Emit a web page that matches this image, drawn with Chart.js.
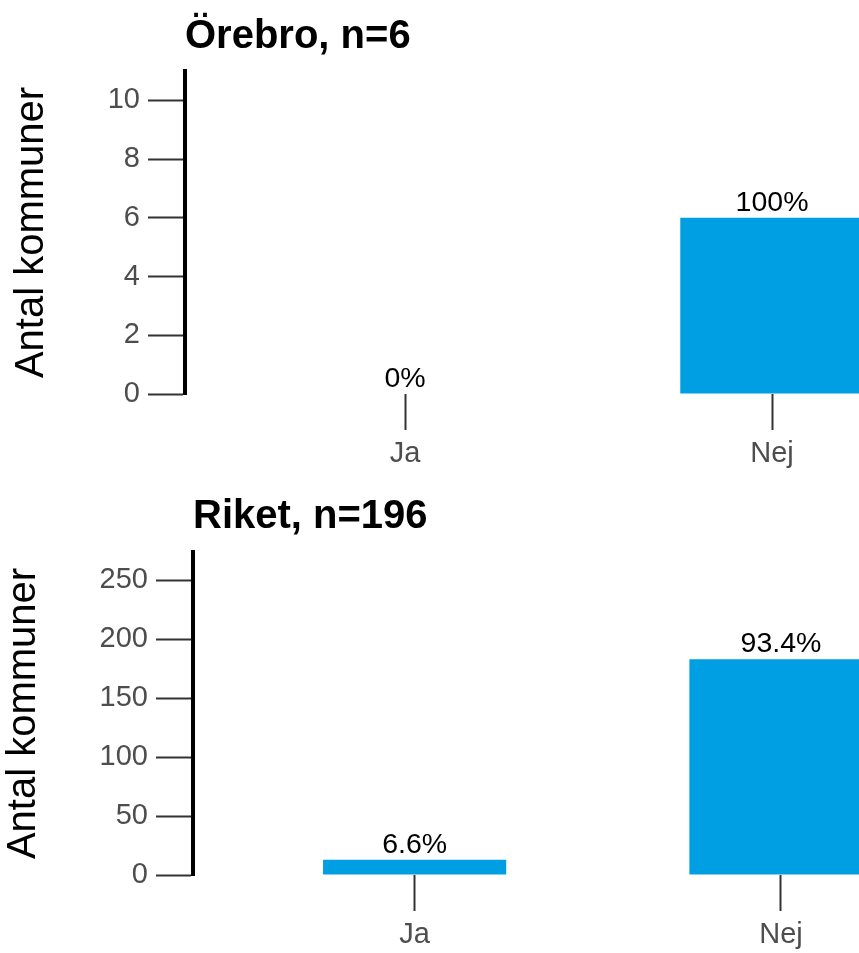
<!DOCTYPE html>
<html>
<head>
<meta charset="utf-8">
<script src="https://cdn.jsdelivr.net/npm/chart.js@4.4.1/dist/chart.umd.min.js"></script>
<style>
  html, body { margin: 0; padding: 0; background: #fff; overflow: hidden; }
  .panel { width: 859px; position: relative; }
  canvas { display: block; }
</style>
</head>
<body>
<div class="panel"><canvas id="orebro" width="859" height="480"></canvas></div>
<div class="panel"><canvas id="riket" width="859" height="473"></canvas></div>
<script>
// data
const kategorier = ['Ja', 'Nej'];
const kategoriPos = [1, 2];

const orebroTitel = 'Örebro, n=6';
const orebroN = 6;
const orebroVarden = [0, 6];
const orebroYTicks = [0, 2, 4, 6, 8, 10];

const riketTitel = 'Riket, n=196';
const riketN = 196;
const riketVarden = [13, 183];
const riketYTicks = [0, 50, 100, 150, 200, 250];

const FONT = "'Liberation Sans', Arial, Helvetica, sans-serif";
const BLA = '#009FE3';

function procent(v, n) {
  return (+(v / n * 100).toFixed(1)) + '%';
}

// titel + procentetiketter
const etiketter = {
  id: 'etiketter',
  afterDatasetsDraw(chart, args, opts) {
    const ctx = chart.ctx;
    const meta = chart.getDatasetMeta(0);
    ctx.save();
    ctx.beginPath();
    ctx.rect(0, 0, chart.width, chart.height);
    ctx.clip();
    ctx.fillStyle = '#000';
    ctx.font = '28.5px ' + FONT;
    ctx.textAlign = 'center';
    ctx.textBaseline = 'alphabetic';
    meta.data.forEach((bar, i) => {
      ctx.fillText(opts.texter[i], bar.x, bar.y - 7);
    });
    ctx.font = 'bold 40px ' + FONT;
    ctx.textAlign = 'left';
    ctx.fillText(opts.titel, chart.chartArea.left, 48);
    ctx.restore();
  }
};

function ritaPanel(id, titel, n, varden, yTicks, yMax, yBredd, xMin, xMax, topp, xHojd, titelPad) {
  const ctx = document.getElementById(id).getContext('2d');
  new Chart(ctx, {
    type: 'bar',
    data: {
      datasets: [{
        data: kategoriPos.map((x, i) => ({ x: x, y: varden[i] })),
        backgroundColor: BLA,
        borderWidth: 0,
        barPercentage: 1,
        categoryPercentage: 0.5
      }]
    },
    options: {
      responsive: false,
      animation: false,
      layout: { padding: { top: topp, right: 0, left: 0, bottom: 0 } },
      plugins: {
        legend: { display: false },
        tooltip: { enabled: false },
        etiketter: { titel: titel, texter: varden.map(v => procent(v, n)) }
      },
      scales: {
        x: {
          type: 'linear',
          min: xMin,
          max: xMax,
          bounds: 'data',
          offset: false,
          afterBuildTicks: s => { s.ticks = kategoriPos.map(v => ({ value: v })); },
          afterFit: s => { s.height = xHojd; },
          grid: { offset: false, drawOnChartArea: false, drawTicks: true, tickLength: 36, tickWidth: 2, tickColor: '#333333' },
          border: { display: false },
          ticks: {
            padding: 7,
            color: '#4D4D4D',
            font: { family: FONT, size: 29 },
            maxRotation: 0,
            callback: v => kategorier[kategoriPos.indexOf(v)]
          }
        },
        y: {
          min: 0,
          max: yMax,
          afterBuildTicks: s => { s.ticks = yTicks.map(v => ({ value: v })); },
          afterFit: s => { s.width = yBredd; },
          grid: { drawOnChartArea: false, drawTicks: true, tickLength: 37, tickWidth: 2, tickColor: '#333333' },
          border: { display: true, color: '#000', width: 4 },
          ticks: {
            padding: 8,
            color: '#4D4D4D',
            font: { family: FONT, size: 29 }
          },
          title: {
            display: true,
            text: 'Antal kommuner',
            color: '#000',
            font: { family: FONT, size: 40 },
            padding: { top: titelPad, bottom: 0 }
          }
        }
      }
    },
    plugins: [etiketter]
  });
}

ritaPanel('orebro', orebroTitel, orebroN, orebroVarden, orebroYTicks, 11, 185, 0.4005, 2.237, 71, 86, 8);
ritaPanel('riket', riketTitel, riketN, riketVarden, riketYTicks, 274, 193, 0.395, 2.213, 72, 78, 0);
</script>
</body>
</html>
